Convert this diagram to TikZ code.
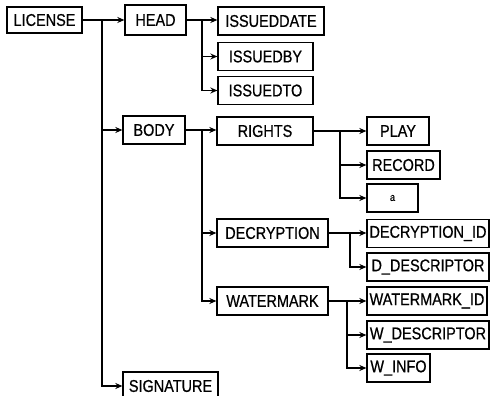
\documentclass[tikz,border=0pt]{standalone}
\usepackage{fontspec}
\setmainfont{Liberation Sans}[FakeStretch=0.85, FakeBold=0.6]
\usetikzlibrary{arrows.meta}
\tikzset{
    elem/.style={rectangle, draw, line width=1.3pt, minimum height=28pt,
                 inner sep=0pt, font=\fontsize{17}{17}\selectfont},
    link/.style={->, >={Stealth[length=7pt,width=6pt]}, line width=1.3pt},
}

\begin{document}
\begin{tikzpicture}[x=1pt, y=-1pt]
    \useasboundingbox (0,0) rectangle (491,396);
    % root and first level
    \node[elem, minimum width=75pt, minimum height=26pt] (lic) at (44.5,20) {LICENSE};
    \node[elem, minimum width=61pt, minimum height=30pt] (head) at (155.5,20) {HEAD};
    \node[elem, minimum width=62pt] (body) at (154,130) {BODY};
    \node[elem, minimum width=95pt] (sig) at (170.5,386) {SIGNATURE};
    % under HEAD
    \node[elem, minimum width=106pt] (idate) at (271,21) {ISSUEDDATE};
    \node[elem, minimum width=95pt] (iby) at (265.5,56.5) {ISSUEDBY};
    \node[elem, minimum width=95pt] (ito) at (265.5,90.5) {ISSUEDTO};
    % under BODY
    \node[elem, minimum width=96pt] (rights) at (265,131) {RIGHTS};
    \node[elem, minimum width=111pt] (decr) at (272.5,233) {DECRYPTION};
    \node[elem, minimum width=111pt] (wmark) at (272.5,301) {WATERMARK};
    % under RIGHTS
    \node[elem, minimum width=62pt] (play) at (398,131) {PLAY};
    \node[elem, minimum width=73pt] (rec) at (403.5,165) {RECORD};
    \node[elem, minimum width=51pt, font=\fontsize{11}{11}\selectfont] (etc) at (392.5,198) {a};
    % under DECRYPTION
    \node[elem, minimum width=122pt] (did) at (428,233.5) {DECRYPTION\_ID};
    \node[elem, minimum width=122pt] (ddesc) at (428,267) {D\_DESCRIPTOR};
    % under WATERMARK
    \node[elem, minimum width=120pt] (wid) at (427,301) {WATERMARK\_ID};
    \node[elem, minimum width=122pt] (wdesc) at (428,335) {W\_DESCRIPTOR};
    \node[elem, minimum width=63pt] (winfo) at (398.5,368) {W\_INFO};

    \coordinate (t0) at (102,20);
    \coordinate (t1) at (202,21);
    \coordinate (t2) at (202,131);
    \coordinate (t3) at (340,131);
    \coordinate (t4) at (350,233);
    \coordinate (t5) at (347,301);

    \draw[link] (lic) -- (head);
    \draw[link] (t0) |- (body);
    \draw[link] (t0) |- (sig);
    \draw[link] (head.east) -- (head.east -| idate.west);
    \draw[link] (t1) |- (iby);
    \draw[link] (t1) |- (ito);
    \draw[link] (body.east) -- (body.east -| rights.west);
    \draw[link] (t2) |- (decr);
    \draw[link] (t2) |- (wmark);
    \draw[link] (rights) -- (play);
    \draw[link] (t3) |- (rec);
    \draw[link] (t3) |- (etc);
    \draw[link] (decr.east) -- (decr.east -| did.west);
    \draw[link] (t4) |- (ddesc);
    \draw[link] (wmark) -- (wid);
    \draw[link] (t5) |- (wdesc);
    \draw[link] (t5) |- (winfo);
\end{tikzpicture}
\end{document}
